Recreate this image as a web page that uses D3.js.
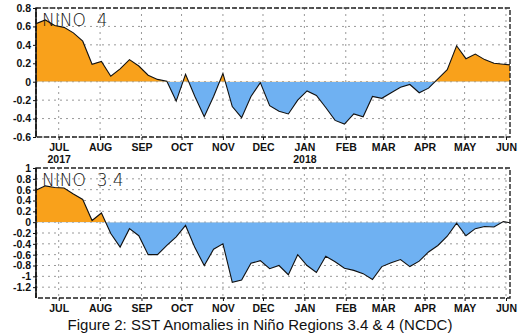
<!doctype html>
<meta charset="utf-8">
<style>
body { margin: 0; background: #fff; }
svg { display: block; }
.tick-y { font: bold 10.5px "Liberation Sans", Arial, sans-serif; }
.tick-x { font: bold 10.5px "Liberation Sans Narrow", "Liberation Sans", sans-serif; }
.ptitle { font: 200 17px "DejaVu Sans ExtraLight", "DejaVu Sans", sans-serif; }
.caption { font: 15px "Liberation Sans", Arial, sans-serif; }
</style>
<script src="https://d3js.org/d3.v7.min.js"></script>
<body>
<svg id="chart"></svg>
<script>
// weekly SST anomalies, first week centred on 14 Jun 2017
var startWeek = "2017-06-14";
var nino4 = [0.63, 0.67, 0.61, 0.59, 0.53, 0.44, 0.19, 0.22, 0.06, 0.14,
             0.24, 0.17, 0.07, 0.025, 0.005, -0.21, 0.08, -0.16, -0.38, -0.16,
             0.09, -0.27, -0.39, -0.16, -0.01, -0.26, -0.32, -0.35, -0.20, -0.10,
             -0.15, -0.28, -0.42, -0.46, -0.35, -0.38, -0.16, -0.18, -0.12, -0.06,
             -0.03, -0.12, -0.07, 0.03, 0.13, 0.39, 0.25, 0.30, 0.24, 0.20,
             0.19, 0.18];
var nino34 = [0.59, 0.67, 0.64, 0.63, 0.52, 0.42, 0.03, 0.17, -0.21, -0.46,
              -0.12, -0.25, -0.60, -0.60, -0.43, -0.27, -0.06, -0.47, -0.80, -0.50,
              -0.40, -1.11, -1.07, -0.76, -0.71, -0.86, -0.80, -0.97, -0.60, -0.80,
              -0.93, -0.63, -0.73, -0.85, -0.89, -0.95, -1.06, -0.82, -0.75, -0.69,
              -0.82, -0.72, -0.55, -0.43, -0.26, -0.02, -0.25, -0.12, -0.08, -0.09,
              0.01, -0.02];
var monthNames = ["JAN","FEB","MAR","APR","MAY","JUN","JUL","AUG","SEP","OCT","NOV","DEC"];
var yTicks4 = [0.8, 0.6, 0.4, 0.2, 0, -0.2, -0.4, -0.6];
var yTicks34 = [1, 0.8, 0.6, 0.4, 0.2, 0, -0.2, -0.4, -0.6, -0.8, -1, -1.2];
var gridY34 = [0.8, 0.6, 0.4, 0.2, 0, -0.2, -0.4, -0.6, -0.8, -1, -1.2];
var caption = "Figure 2: SST Anomalies in Niño Regions 3.4 & 4 (NCDC)";

var W = 519, H = 336;
var svg = d3.select("#chart").attr("width", W).attr("height", H);
svg.append("rect").attr("width", W).attr("height", H).attr("fill", "#fff");

var parse = d3.timeParse("%Y-%m-%d");
var t0 = parse(startWeek);
function toSeries(vals) {
  return vals.map(function(v, i){ return { date: d3.timeDay.offset(t0, 7 * i), value: v }; });
}

var x = d3.scaleTime()
    .domain([parse("2017-06-14"), parse("2018-06-04")])
    .range([36, 510]);
var months = d3.timeMonth.range(parse("2017-07-01"), parse("2018-06-02"));

function panel(id, vals, domain, top, bottom, ticks, gridTicks, title, years) {
  var y = d3.scaleLinear().domain(domain).range([bottom, top]);
  var g = svg.append("g").attr("id", id);
  var data = toSeries(vals);
  var x0 = x.range()[0], x1 = x.range()[1];

  g.append("clipPath").attr("id", id + "-pos")
    .append("rect").attr("x", x0).attr("y", top).attr("width", x1 - x0).attr("height", y(0) - top);
  g.append("clipPath").attr("id", id + "-neg")
    .append("rect").attr("x", x0).attr("y", y(0)).attr("width", x1 - x0).attr("height", bottom - y(0));

  var area = d3.area()
      .x(function(d){ return x(d.date); })
      .y0(y(0))
      .y1(function(d){ return y(d.value); });
  var line = d3.line()
      .x(function(d){ return x(d.date); })
      .y(function(d){ return y(d.value); });

  // grid
  g.selectAll(".gy").data(gridTicks).enter().append("line")
    .attr("x1", x0).attr("x2", x1)
    .attr("y1", function(d){ return y(d); }).attr("y2", function(d){ return y(d); })
    .attr("stroke", "#999").attr("stroke-width", 1).attr("stroke-dasharray", "2,4");
  g.selectAll(".gx").data(months).enter().append("line")
    .attr("x1", function(d){ return x(d); }).attr("x2", function(d){ return x(d); })
    .attr("y1", top).attr("y2", bottom)
    .attr("stroke", "#999").attr("stroke-width", 1).attr("stroke-dasharray", "2,4");

  // anomaly fill, warm above zero and cool below
  g.append("path").datum(data).attr("d", area)
    .attr("fill", "#f9a11b").attr("clip-path", "url(#" + id + "-pos)");
  g.append("path").datum(data).attr("d", area)
    .attr("fill", "#6fb1f2").attr("clip-path", "url(#" + id + "-neg)");

  g.append("clipPath").attr("id", id + "-box")
    .append("rect").attr("x", x0).attr("y", top).attr("width", x1 - x0).attr("height", bottom - top);
  g.append("path").datum(data).attr("d", line)
    .attr("fill", "none").attr("stroke", "#111").attr("stroke-width", 1.1)
    .attr("clip-path", "url(#" + id + "-box)");

  // frame
  g.append("rect").attr("x", x0).attr("y", top).attr("width", x1 - x0).attr("height", bottom - top)
    .attr("fill", "none").attr("stroke", "#222").attr("stroke-width", 1.4).attr("stroke-dasharray", "5,2");
  g.append("line").attr("x1", x0).attr("x2", x0).attr("y1", top).attr("y2", bottom)
    .attr("stroke", "#111").attr("stroke-width", 1.6);

  // y axis
  var ya = g.append("g").attr("class", "tick-y")
      .attr("transform", "translate(" + x0 + ",0)")
      .call(d3.axisLeft(y).tickValues(ticks).tickSize(3).tickPadding(2)
        .tickFormat(function(d){ return d3.format("~g")(d).replace("−", "-"); }));
  ya.select(".domain").remove();
  ya.selectAll("line").attr("stroke", "#111");
  ya.selectAll("text").attr("fill", "#111");

  // x axis
  var xa = g.append("g").attr("class", "tick-x")
      .attr("transform", "translate(0," + bottom + ")")
      .call(d3.axisBottom(x).tickValues(months).tickSize(3).tickPadding(4)
        .tickFormat(function(d){ return monthNames[d.getMonth()]; }));
  xa.select(".domain").remove();
  xa.selectAll("line").attr("stroke", "#111");
  xa.selectAll("text").attr("fill", "#111");
  if (years) {
    xa.selectAll(".tick").filter(function(d){ return d.getMonth() === 6 || d.getMonth() === 0; })
      .append("text").attr("fill", "#111").attr("y", 19).attr("dy", "0.71em")
      .text(function(d){ return d.getFullYear(); });
  }

  g.append("text").attr("class", "ptitle").attr("x", 42).attr("y", top + 18)
    .attr("fill", "#111").attr("xml:space", "preserve").text(title);
}

panel("n4", nino4, [-0.6, 0.8], 8, 137, yTicks4, yTicks4, "NINO  4", true);
panel("n34", nino34, [-1.4, 1], 168, 298, yTicks34, gridY34, "NINO  3.4", false);

svg.append("text").attr("class", "caption")
  .attr("x", 260).attr("y", 330).attr("text-anchor", "middle")
  .attr("fill", "#111").text(caption);
</script>
</body>
